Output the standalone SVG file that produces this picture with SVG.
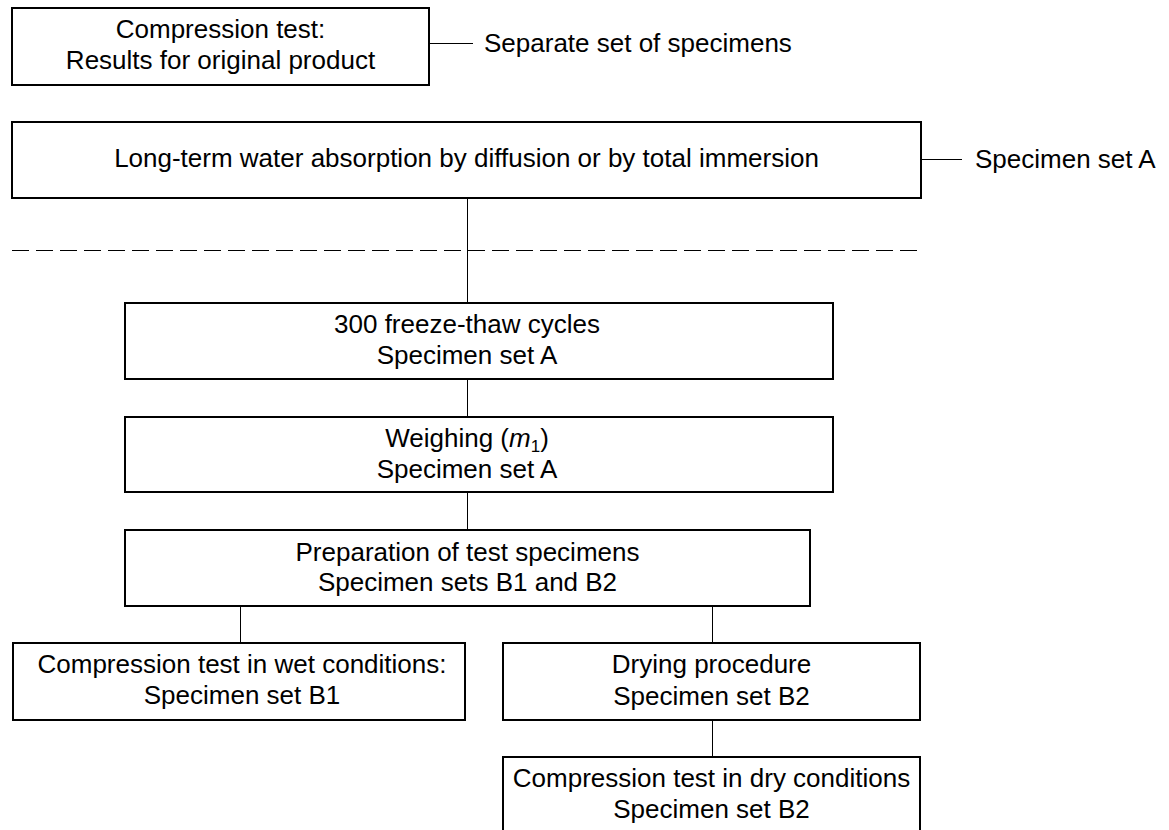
<svg xmlns="http://www.w3.org/2000/svg" width="1169" height="830" viewBox="0 0 1169 830">
<style>
rect{fill:#fff;stroke:#000;stroke-width:2}
text{font-family:"Liberation Sans",Arial,sans-serif;font-size:26px;fill:#000;text-anchor:middle}
.l{text-anchor:start}
.c line{stroke:#000;stroke-width:1}
</style>
<rect x="0" y="0" width="1169" height="830" style="stroke:none"/>
<g class="c" id="connectors">
<line x1="429" y1="43.5" x2="473" y2="43.5"/>
<line x1="921" y1="159.5" x2="962" y2="159.5"/>
<line x1="467.5" y1="198" x2="467.5" y2="303"/>
<line x1="12" y1="250.5" x2="921" y2="250.5" stroke-dasharray="17,7"/>
<line x1="467.5" y1="379" x2="467.5" y2="417"/>
<line x1="467.5" y1="492" x2="467.5" y2="530"/>
<line x1="240.5" y1="606" x2="240.5" y2="643"/>
<line x1="712.5" y1="606" x2="712.5" y2="643"/>
<line x1="712.5" y1="720" x2="712.5" y2="757"/>
</g>
<g id="n1"><rect x="12" y="8" width="417" height="77"/><text x="220.5" y="38">Compression test:</text><text x="220.5" y="69">Results for original product</text></g>
<g id="l1"><text class="l" x="484" y="52">Separate set of specimens</text></g>
<g id="n2"><rect x="12" y="122" width="909" height="76"/><text x="466.5" y="167">Long-term water absorption by diffusion or by total immersion</text></g>
<g id="l2"><text class="l" x="975" y="168">Specimen set A</text></g>
<g id="n3"><rect x="125" y="303" width="708" height="76"/><text x="467" y="333">300 freeze-thaw cycles</text><text x="467" y="364">Specimen set A</text></g>
<g id="n4"><rect x="125" y="417" width="708" height="75"/><text x="467" y="447">Weighing (<tspan font-style="italic">m</tspan><tspan font-size="17" dy="5">1</tspan><tspan dy="-5">)</tspan></text><text x="467" y="478">Specimen set A</text></g>
<g id="n5"><rect x="125" y="530" width="685" height="76"/><text x="467.5" y="561">Preparation of test specimens</text><text x="467.5" y="591">Specimen sets B1 and B2</text></g>
<g id="n6"><rect x="13" y="643" width="452" height="77"/><text x="242" y="673">Compression test in wet conditions:</text><text x="242" y="704">Specimen set B1</text></g>
<g id="n7"><rect x="503" y="643" width="417" height="77"/><text x="711.5" y="673">Drying procedure</text><text x="711.5" y="705">Specimen set B2</text></g>
<g id="n8"><rect x="503" y="757" width="417" height="90"/><text x="711.5" y="787">Compression test in dry conditions</text><text x="711.5" y="818">Specimen set B2</text></g>
</svg>
